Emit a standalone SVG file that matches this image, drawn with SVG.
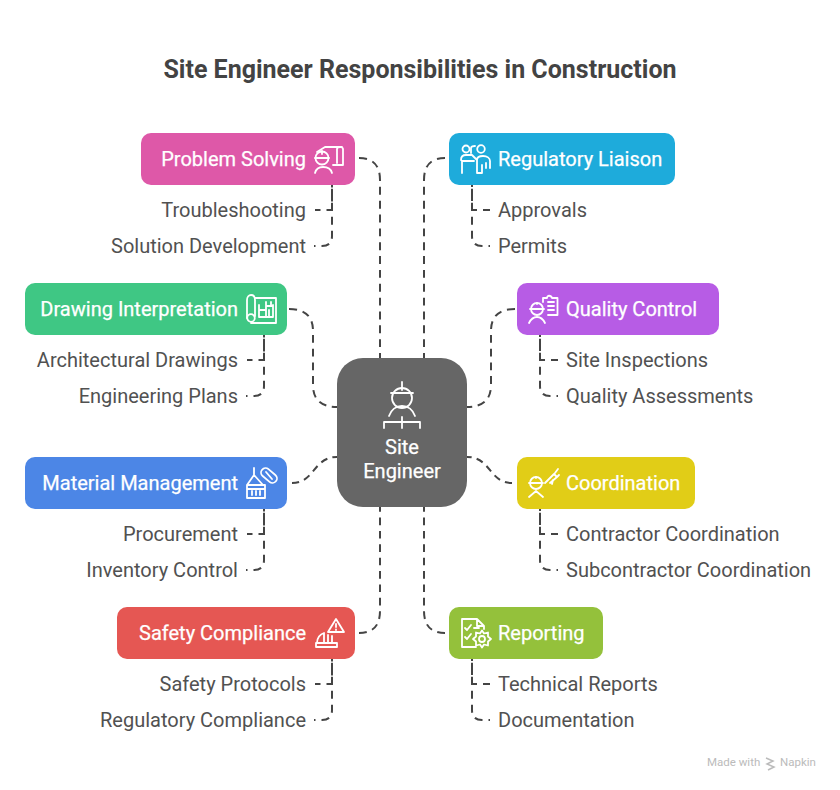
<svg xmlns="http://www.w3.org/2000/svg" width="840" height="790" viewBox="0 0 840 790">
<style>
text{font-family:Roboto,"Liberation Sans",sans-serif}
.t{font-size:25px;font-weight:700;fill:#434343}
.n{font-size:20px;font-weight:400;fill:#fff;stroke:#fff;stroke-width:.25}
.s{font-size:20px;fill:#515151}
.c{fill:none;stroke:#444;stroke-width:2;stroke-dasharray:8 6}
.h{stroke-dashoffset:2.500}
.b{stroke-dashoffset:6.500}
.i{fill:none;stroke:#fff;stroke-width:1.800;stroke-linecap:round;stroke-linejoin:round}
.e{text-anchor:end}
</style>
<rect width="840" height="790" fill="#fff"/>
<text class="t" x="420" y="78" text-anchor="middle">Site Engineer Responsibilities in Construction</text>
<g id="connectors">
<path class="c" pathLength="215" d="M359 158Q380 158 380 180V358"/>
<path class="c" pathLength="215" d="M445 158Q424 158 424 180V358"/>
<path class="c" pathLength="131" d="M289 309Q313 309 313 331V385Q313 407 337 407"/>
<path class="c" pathLength="131" d="M515 309Q491 309 491 331V385Q491 407 467 407"/>
<path class="c" pathLength="61" d="M292 483C315 483 313 457 337 457"/>
<path class="c" pathLength="61" d="M512 483C489 483 491 457 467 457"/>
<path class="c" pathLength="145" d="M359 633Q380 633 380 611V507"/>
<path class="c" pathLength="145" d="M445 633Q424 633 424 611V507"/>
<path class="c h" d="M315 210H332V185"/>
<path class="c b" d="M314 246H322Q332 246 332 236V185"/>
<path class="c" style="stroke-dashoffset:1" d="M490 210H472V185"/>
<path class="c b" d="M490 246H482Q472 246 472 236V185"/>
<path class="c h" d="M247 360H264V335"/>
<path class="c b" d="M246 396H254Q264 396 264 386V335"/>
<path class="c" style="stroke-dashoffset:1" d="M558 360H540V335"/>
<path class="c b" d="M558 396H550Q540 396 540 386V335"/>
<path class="c h" d="M247 534H264V509"/>
<path class="c b" d="M246 570H254Q264 570 264 560V509"/>
<path class="c" style="stroke-dashoffset:1" d="M558 534H540V509"/>
<path class="c b" d="M558 570H550Q540 570 540 560V509"/>
<path class="c h" d="M315 684H332V659"/>
<path class="c b" d="M314 720H322Q332 720 332 710V659"/>
<path class="c" style="stroke-dashoffset:1" d="M490 684H472V659"/>
<path class="c b" d="M490 720H482Q472 720 472 710V659"/>
</g>
<g id="center">
<rect x="337" y="358" width="130" height="149" rx="26" fill="#666"/>
<g class="i">
<circle cx="402" cy="398" r="10"/>
<path d="M402 382V390M391 393H413"/>
<path d="M389 416C391 410 396 406 402 406C408 406 413 410 415 416M402 417V428M384 428V422H420V428"/>
</g>
<text class="n" x="402" y="454" text-anchor="middle">Site</text>
<text class="n" x="402" y="478" text-anchor="middle">Engineer</text>
</g>
<g id="problem-solving">
<rect x="141" y="133" width="214" height="52" rx="10" fill="#de58a8"/>
<text class="n e" x="306" y="166">Problem Solving</text>
<g class="i">
<circle cx="322" cy="158" r="6.500"/>
<path d="M315 158H329M322 151V154M315 173C316 169 319 167 323 167C327 167 331 169 332 173"/>
<path d="M317 152L325 147H342M337 163V149C337 147 343 146 343 149V165H333"/>
</g>
</g>
<g id="regulatory-liaison">
<rect x="449" y="133" width="226" height="52" rx="10" fill="#1eabdb"/>
<text class="n" x="498" y="166">Regulatory Liaison</text>
<g class="i" transform="translate(460,143)">
<circle cx="6" cy="6" r="3.500"/><circle cx="21" cy="6" r="3.800"/>
<path d="M11 10V5C11 3 13 3 15 3"/>
<path d="M1 17C1 14 3 12 6 12H12L17 17M2 18H14M2 18V30M17 30V17C17 14 20 13 23 13C27 13 30 15 30 18V25M22 22V30H17M26 20V25"/>
</g>
</g>
<g id="drawing-interpretation">
<rect x="25" y="283" width="262" height="52" rx="10" fill="#3fc784"/>
<text class="n e" x="238" y="316">Drawing Interpretation</text>
<g class="i" transform="translate(246,294)">
<circle cx="5" cy="24" r="3.800"/>
<path d="M1 24V6C1 3 3 1 5 1C8 1 9 3 9 6V22M9 4H30V29H5M13 11V23H27V11M13 16H20V23M20 8V16M25 8V11M20 12H27M23 16V23"/>
</g>
</g>
<g id="quality-control">
<rect x="517" y="283" width="202" height="52" rx="10" fill="#b75ce5"/>
<text class="n" x="566" y="316">Quality Control</text>
<g class="i" transform="translate(528,294)">
<circle cx="9" cy="15" r="6"/>
<path d="M2 15H16M9 9V10M1 29C3 25 5 23 9 23C13 23 15 25 17 29M15 8V4H19C19 1 23 1 24 4H29.500V21H20M20 8H26M20 12H26M20 16H26"/>
</g>
</g>
<g id="material-management">
<rect x="25" y="457" width="262" height="52" rx="10" fill="#4c86e6"/>
<text class="n e" x="238" y="490">Material Management</text>
<g class="i" transform="translate(245,467)">
<path d="M9 1V8L2 18M9 8L18 18M2 18H20V31H2ZM2 22H20M7 24V28M11 24V28M15 24V28"/>
<rect x="15" y="4" width="18" height="9" rx="4.500" transform="rotate(40 24 8.500)"/>
<path d="M21 5L27 12"/>
</g>
</g>
<g id="coordination">
<rect x="517" y="457" width="178" height="52" rx="10" fill="#e1cd17"/>
<text class="n" x="566" y="490">Coordination</text>
<g class="i" transform="translate(528,468)">
<circle cx="8" cy="15" r="6"/>
<path d="M1 15H15M8 9V10M1 29L8 23L15 29M19 13L26 6L29 9L22 15M17 15L20 12M30 1L27 5M31 7L29 9M24 16L25 12"/>
</g>
</g>
<g id="safety-compliance">
<rect x="117" y="607" width="238" height="52" rx="10" fill="#e55753"/>
<text class="n e" x="306" y="640">Safety Compliance</text>
<g class="i" transform="translate(314,618)">
<path d="M14 14L22 1L30 14ZM22 6V9M22 11.500V12M3 25C3 20 6 16 10 15V25M14 17V25M18 18V25M2 25H23V29H2Z"/>
</g>
</g>
<g id="reporting">
<rect x="449" y="607" width="154" height="52" rx="10" fill="#94c13b"/>
<text class="n" x="498" y="640">Reporting</text>
<g class="i" transform="translate(460,618)">
<path d="M16 29H2V1H17L24 8V11M17 1V8H24M5 10L7 12L11 7M5 19L7 21L11 16M14 10H19"/>
<circle cx="22" cy="21" r="3"/>
<path d="M22 12.500L24 15.500L28 14.500L28 18.500L31 21L28 23.500L28 27.500L24 26.500L22 29.500L20 26.500L16 27.500L16 23.500L13 21L16 18.500L16 14.500L20 15.500Z"/>
</g>
</g>
<g id="labels">
<text class="s e" x="306" y="217">Troubleshooting</text>
<text class="s e" x="306" y="253">Solution Development</text>
<text class="s" x="498" y="217">Approvals</text>
<text class="s" x="498" y="253">Permits</text>
<text class="s e" x="238" y="367">Architectural Drawings</text>
<text class="s e" x="238" y="403">Engineering Plans</text>
<text class="s" x="566" y="367">Site Inspections</text>
<text class="s" x="566" y="403">Quality Assessments</text>
<text class="s e" x="238" y="541">Procurement</text>
<text class="s e" x="238" y="577">Inventory Control</text>
<text class="s" x="566" y="541">Contractor Coordination</text>
<text class="s" x="566" y="577">Subcontractor Coordination</text>
<text class="s e" x="306" y="691">Safety Protocols</text>
<text class="s e" x="306" y="727">Regulatory Compliance</text>
<text class="s" x="498" y="691">Technical Reports</text>
<text class="s" x="498" y="727">Documentation</text>
</g>
<g id="watermark">
<text x="707" y="766" font-size="11.500" fill="#bbb" font-family="Inter,sans-serif">Made with</text>
<path d="M766 758L773 761L767 764L774 767L768 770" fill="none" stroke="#bbb" stroke-width="1.500"/>
<text x="780" y="766" font-size="11.500" fill="#bbb" font-family="Inter,sans-serif">Napkin</text>
</g>
</svg>
